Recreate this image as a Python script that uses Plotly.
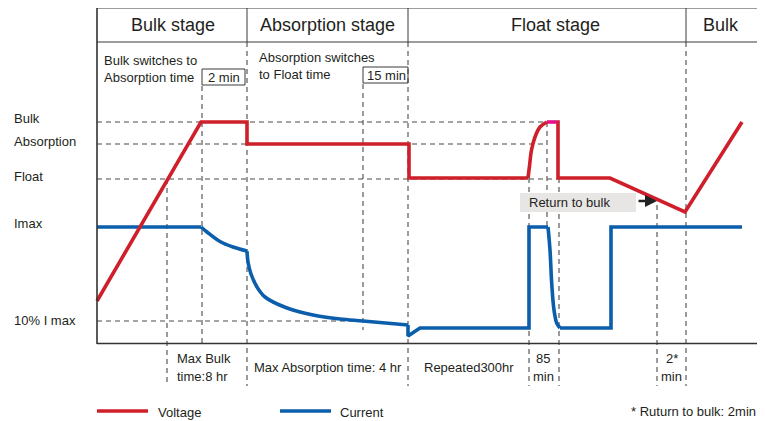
import plotly.graph_objects as go

# ---------------- data (schematic time units on x, level units on y; y grows downward) ----
stage_names = ["Bulk stage", "Absorption stage", "Float stage", "Bulk"]
stage_centers = [173, 327, 555, 721]
stage_dividers = [247, 408, 686]

level_names = ["Bulk", "Absorption", "Float", "Imax", "10% I max"]
level_values = [118, 141, 176, 223, 320]

# Voltage trace pieces
volt_a_t = [97, 201, 247, 247, 409, 409, 528]
volt_a_v = [301, 122, 122, 144, 144, 178, 178]
volt_rise_t = [528, 529.5, 531.5, 535, 540, 547]
volt_rise_v = [178, 166, 150, 137, 127, 122]
volt_peak_t = [547, 557]
volt_peak_v = [122, 122]
volt_b_t = [557, 558, 558, 610, 685, 742]
volt_b_v = [122, 122, 178, 178, 212, 122]

# Current trace pieces
cur_a_t = [97, 201]
cur_a_i = [227, 227]
cur_c1_t = [201, 207, 220, 233, 247]
cur_c1_i = [227, 232, 241.5, 247, 251]
cur_c2_t = [247, 248, 251, 257, 265, 287, 313, 340, 363, 408]
cur_c2_i = [251, 262, 274, 287, 297, 308, 315, 319, 321, 325]
cur_b_t = [408, 408, 420, 529, 529, 548]
cur_b_i = [325, 336, 328, 328, 227, 227]
cur_c3_t = [548, 550, 551.7, 554, 556.7, 560]
cur_c3_i = [227, 250, 283, 310, 323, 328]
cur_d_t = [560, 611, 611, 742]
cur_d_i = [328, 328, 227, 227]

# Guide lines (dashed)
vguide_x = [167, 202, 247, 363, 408, 529, 547, 559, 657, 686]
vguide_top = [179, 86, 42, 84, 42, 178, 122, 178, 205, 42]
vguide_bot = [386, 343, 386, 330, 386, 386, 230, 386, 386, 386]
hguide_y = [122, 144, 179, 321]
hguide_end = [547, 547, 557, 363]

RED = "#CE1F2B"
BLUE = "#0B5EAB"
PINK = "#E3128A"
TXT = "#231F20"
FONT = "Arial, Liberation Sans, sans-serif"

# page body has an 8px margin: the plot occupies page pixels 8..765 x 8..421
OFF = 8
W, H = 765, 421

fig = go.Figure()

# dashed guides
gx, gy = [], []
for x, t, b in zip(vguide_x, vguide_top, vguide_bot):
    gx += [x, x, None]
    gy += [t, b, None]
for y, e in zip(hguide_y, hguide_end):
    gx += [97, e, None]
    gy += [y, y, None]
fig.add_trace(go.Scatter(x=gx, y=gy, mode="lines", hoverinfo="skip",
                         line=dict(color="#4a4a4a", width=1.1, dash="5px,4px"),
                         showlegend=False))

def add_line(t, v, color, shape="linear"):
    fig.add_trace(go.Scatter(x=t, y=v, mode="lines", hoverinfo="skip",
                             line=dict(color=color, width=3.6, shape=shape),
                             showlegend=False))

add_line(cur_a_t, cur_a_i, BLUE)
add_line(cur_c1_t, cur_c1_i, BLUE, "spline")
add_line(cur_c2_t, cur_c2_i, BLUE, "spline")
add_line(cur_b_t, cur_b_i, BLUE)
add_line(cur_c3_t, cur_c3_i, BLUE, "spline")
add_line(cur_d_t, cur_d_i, BLUE)

add_line(volt_a_t, volt_a_v, RED)
add_line(volt_rise_t, volt_rise_v, RED, "spline")
add_line(volt_b_t, volt_b_v, RED)
add_line(volt_peak_t, volt_peak_v, PINK)

shapes = []
frame = dict(type="line", line=dict(color="#3a3a3a", width=1))
# header frame
shapes.append(dict(frame, x0=97, x1=765, y0=8, y1=8))
shapes.append(dict(frame, x0=97, x1=765, y0=42, y1=42))
for d in stage_dividers:
    shapes.append(dict(frame, x0=d, x1=d, y0=8, y1=42))
# axes
shapes.append(dict(type="line", x0=97, x1=97, y0=8, y1=344, line=dict(color="#333", width=1.6)))
shapes.append(dict(type="line", x0=97, x1=760, y0=343.5, y1=343.5, line=dict(color="#333", width=1.6)))
# time boxes
shapes.append(dict(type="rect", x0=202, x1=245, y0=69, y1=85, line=dict(color="#3a3a3a", width=1)))
shapes.append(dict(type="rect", x0=363, x1=408, y0=67, y1=83, line=dict(color="#3a3a3a", width=1)))
# return-to-bulk label background (covers the dashed guides)
shapes.append(dict(type="rect", x0=520, x1=636, y0=193, y1=212, line=dict(width=0),
                   fillcolor="#E8E5E5", layer="above"))
# legend samples
shapes.append(dict(type="line", x0=97, x1=148, y0=411, y1=411, line=dict(color=RED, width=3.6)))
shapes.append(dict(type="line", x0=280, x1=331, y0=411, y1=411, line=dict(color=BLUE, width=3.6)))

ann = []
def text(x, y, s, size=13, xanchor="left"):
    ann.append(dict(x=x, y=y, text=s, showarrow=False, xanchor=xanchor, yanchor="middle",
                    font=dict(family=FONT, size=size, color=TXT)))

for n, c in zip(stage_names, stage_centers):
    text(c, 25, n, size=18, xanchor="center")

text(102, 60, "Bulk switches to")
text(102, 77, "Absorption time")
text(224, 77, "2 min", xanchor="center")
text(257, 57, "Absorption switches")
text(257, 74, "to Float time")
text(386, 75, "15 min", xanchor="center")

for n, y in zip(level_names, level_values):
    text(12, y, n)

text(527, 202, "Return to bulk")
ann.append(dict(x=657, y=201, ax=637, ay=201, axref="x", ayref="y", xref="x", yref="y",
                showarrow=True, arrowhead=2, arrowsize=1, arrowwidth=2.4, arrowcolor="#222",
                text=""))

text(175, 358, "Max Bulk")
text(175, 376, "time:8 hr")
text(252, 367, "Max Absorption time: 4 hr")
text(422, 367, "Repeated300hr")
text(543, 358, "85", xanchor="center")
text(543, 376, "min", xanchor="center")
text(672, 358, "2*", xanchor="center")
text(671, 376, "min", xanchor="center")

text(156, 412, "Voltage")
text(338, 412, "Current")
text(758, 411, "* Ruturn to bulk: 2min", xanchor="right")

fig.update_layout(
    width=W - OFF, height=H - OFF,
    margin=dict(l=0, r=0, t=0, b=0),
    paper_bgcolor="white", plot_bgcolor="white",
    xaxis=dict(range=[OFF, W], visible=False, fixedrange=True),
    yaxis=dict(range=[H, OFF], visible=False, fixedrange=True),
    shapes=shapes, annotations=ann,
    showlegend=False,
)

fig.write_html("out.html")
